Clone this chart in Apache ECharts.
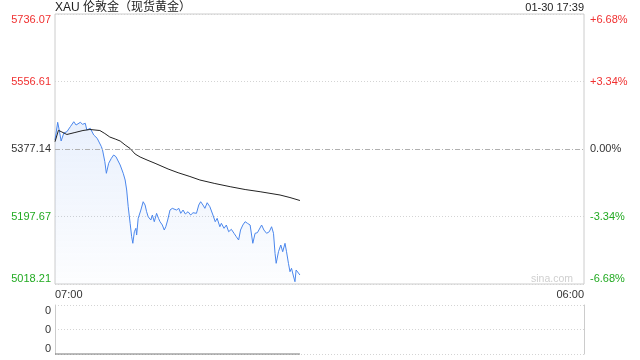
<!DOCTYPE html>
<html>
<head>
<meta charset="utf-8">
<script src="https://cdn.jsdelivr.net/npm/echarts@6/dist/echarts.min.js"></script>
<style>
html,body{margin:0;padding:0;background:#fff;}
#chart{width:640px;height:360px;}
</style>
</head>
<body>
<div id="chart"></div>
<script>
// ---- data ----
const titleText = 'XAU 伦敦金（现货黄金）';
const dateText = '01-30 17:39';
const timeLabels = ['07:00', '06:00'];          // session start / end
const sessionMinutes = 1380;                    // 07:00 -> 06:00 next day
const leftLabels = ['5018.21', '5197.67', '5377.14', '5556.61', '5736.07'];
const rightLabels = ['-6.68%', '-3.34%', '0.00%', '+3.34%', '+6.68%'];
const prevClose = 5377.14;

// minutes after 07:00
const priceMinutes = [0,7,11,16,23,31,40,49,55,66,
  72,79,83,92,101,110,114,121,124,130,
  134,140,147,153,159,164,170,178,183,187,
  191,196,200,203,207,211,213,217,224,230,
  235,239,243,250,254,259,265,270,274,280,
  285,289,294,300,306,311,317,323,328,334,
  340,347,354,360,369,375,380,386,391,397,
  404,412,418,423,430,434,441,447,453,460,
  467,473,479,484,490,496,502,509,516,522,
  528,533,539,545,552,559,565,570,574,577,
  583,589,594,600,604,609,613,617,622,626,
  629,632,639];
const prices = [5401.0,5448.1,5427.7,5398.4,5419.7,5423.1,5436.4,5449.7,5440.9,5448.1,
  5442.8,5445.5,5427.7,5432.2,5414.4,5405.6,5409.8,5383.3,5374.5,5343.4,
  5312.5,5339.1,5352.4,5361.2,5356.7,5352.4,5334.6,5312.5,5294.7,5268.1,
  5223.7,5179.6,5143.9,5126.4,5157.2,5166.3,5148.4,5192.8,5214.9,5237.0,
  5228.2,5210.4,5197.1,5188.3,5201.6,5183.8,5206.1,5192.8,5183.8,5175.0,
  5161.7,5170.5,5188.3,5214.9,5219.4,5223.7,5214.9,5219.4,5206.1,5214.9,
  5204.3,5210.4,5201.6,5207.7,5206.1,5228.2,5237.0,5228.2,5219.4,5234.3,
  5223.7,5201.6,5183.8,5192.8,5170.5,5179.6,5166.3,5175.0,5157.2,5163.6,
  5153.0,5143.9,5135.2,5161.7,5175.0,5183.8,5179.6,5175.0,5126.4,5153.0,
  5154.6,5157.2,5175.0,5161.7,5153.0,5157.2,5170.5,5153.0,5099.8,5073.2,
  5104.0,5121.9,5104.0,5126.4,5104.0,5073.2,5050.9,5059.9,5039.4,5024.3,
  5055.4,5050.9,5042.1];

const avgMinutes = [0,9,18,31,52,73,91,117,130,143,
  157,170,183,196,209,222,240,261,295,321,
  352,378,417,457,496,535,587,613,639];
const avgPrices = [5396.5,5426.9,5422.3,5415.7,5421.0,5426.3,5429.0,5426.3,5418.3,5409.0,
  5403.7,5398.4,5387.8,5378.5,5363.8,5355.9,5347.9,5339.1,5324.0,5314.1,
  5304.0,5294.7,5285.4,5276.9,5269.4,5263.6,5254.8,5248.1,5240.2];

const volMinutes = [0, 639];
const volumes = [0, 0];
const volLabels = ['0', '0', '0'];

// ---- chart ----
const FONT = '"Liberation Sans", Arial, "Noto Sans CJK SC", sans-serif';
const RED = '#f03030', GREEN = '#22aa22', DARK = '#333';
const yMin = parseFloat(leftLabels[0]);
const yMax = parseFloat(leftLabels[leftLabels.length - 1]);
const yStep = (yMax - yMin) / (leftLabels.length - 1);
const idxOf = v => Math.round((v - yMin) / yStep);
const colorOf = i => i > 2 ? RED : (i < 2 ? GREEN : DARK);
const zip = (a, b) => a.map((x, i) => [x, b[i]]);

const chart = echarts.init(document.getElementById('chart'), null, {renderer: 'canvas'});
chart.setOption({
  animation: false,
  textStyle: {fontFamily: FONT},
  title: [
    {text: titleText, left: 55, top: 2, padding: 0,
     textStyle: {fontSize: 12, fontWeight: 'normal', color: '#222', fontFamily: FONT}},
    {text: dateText, right: 56, top: 2, padding: 0,
     textStyle: {fontSize: 11, fontWeight: 'normal', color: '#222', fontFamily: FONT}}
  ],
  graphic: [{
    type: 'text', x: 573, y: 279, silent: true,
    style: {text: 'sina.com', fill: '#cfcfcf', font: '10.5px ' + FONT, align: 'right', verticalAlign: 'middle'}
  }],
  grid: [
    {left: 55, right: 56, top: 14, height: 270, show: true, borderColor: '#cccccc', borderWidth: 1,
     containLabel: false, outerBoundsMode: 'none'},
    {left: 55, right: 56, top: 305, height: 49, show: false, containLabel: false, outerBoundsMode: 'none'}
  ],
  xAxis: [
    {type: 'value', gridIndex: 0, min: 0, max: sessionMinutes, interval: sessionMinutes,
     axisLine: {show: false}, axisTick: {show: false}, splitLine: {show: false},
     axisLabel: {fontSize: 11, margin: 5, color: DARK, fontFamily: FONT,
       alignMinLabel: 'left', alignMaxLabel: 'right',
       formatter: v => v === 0 ? timeLabels[0] : timeLabels[1]}},
    {type: 'value', gridIndex: 1, min: 0, max: sessionMinutes, interval: sessionMinutes,
     axisLine: {show: false}, axisTick: {show: false}, splitLine: {show: false},
     axisLabel: {show: false}}
  ],
  yAxis: [
    {type: 'value', gridIndex: 0, position: 'left', min: yMin, max: yMax, interval: yStep,
     axisLine: {show: false}, axisTick: {show: false},
     axisLabel: {fontSize: 11, margin: 4, fontFamily: FONT,
       verticalAlignMinLabel: 'bottom', verticalAlignMaxLabel: 'top',
       formatter: v => leftLabels[idxOf(v)],
       color: v => colorOf(idxOf(v))},
     splitLine: {show: true, lineStyle: {color: ['#d4d4d4', '#d4d4d4', 'rgba(0,0,0,0)', '#d4d4d4', '#d4d4d4'], type: [1, 2], width: 1}}},
    {type: 'value', gridIndex: 0, position: 'right', min: yMin, max: yMax, interval: yStep,
     axisLine: {show: false}, axisTick: {show: false}, splitLine: {show: false},
     axisLabel: {fontSize: 11, margin: 6, fontFamily: FONT,
       verticalAlignMinLabel: 'bottom', verticalAlignMaxLabel: 'top',
       formatter: v => rightLabels[idxOf(v)],
       color: v => colorOf(idxOf(v))}},
    {type: 'value', gridIndex: 1, position: 'left', min: 0, max: 2, interval: 1,
     axisLine: {show: true, lineStyle: {color: '#cccccc'}}, axisTick: {show: false},
     axisLabel: {fontSize: 11, margin: 4, color: DARK, fontFamily: FONT,
       verticalAlignMinLabel: 'bottom', verticalAlignMaxLabel: 'top',
       formatter: (v, i) => volLabels[Math.round(v)]},
     splitLine: {show: true, lineStyle: {color: '#d4d4d4', type: [1, 2], width: 1}}},
    {type: 'value', gridIndex: 1, position: 'right', min: 0, max: 2, interval: 1,
     axisLine: {show: true, lineStyle: {color: '#cccccc'}}, axisTick: {show: false},
     axisLabel: {show: false}, splitLine: {show: false}}
  ],
  series: [
    {type: 'line', name: 'price', xAxisIndex: 0, yAxisIndex: 0, data: zip(priceMinutes, prices),
     showSymbol: false, symbol: 'none', silent: true, z: 3,
     lineStyle: {color: '#4a86ec', width: 1},
     areaStyle: {origin: 'start', color: new echarts.graphic.LinearGradient(0, 0, 0, 1, [
       {offset: 0, color: 'rgba(70,130,235,0.17)'},
       {offset: 1, color: 'rgba(70,130,235,0.02)'}
     ])}},
    {type: 'line', name: 'avg', xAxisIndex: 0, yAxisIndex: 0, data: zip(avgMinutes, avgPrices),
     showSymbol: false, symbol: 'none', silent: true, z: 4,
     lineStyle: {color: '#222', width: 1},
     markLine: {silent: true, symbol: 'none', label: {show: false},
       lineStyle: {color: '#b0b0b0', type: [5, 2, 1, 2], width: 1},
       data: [{yAxis: prevClose}]}},
    {type: 'line', name: 'vol', xAxisIndex: 1, yAxisIndex: 2, data: zip(volMinutes, volumes),
     showSymbol: false, symbol: 'none', silent: true, clip: false,
     lineStyle: {color: '#777', width: 1}}
  ]
});
</script>
</body>
</html>
